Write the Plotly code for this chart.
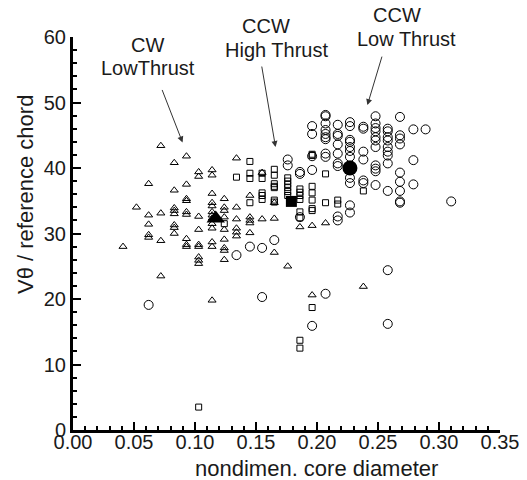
import plotly.graph_objects as go

# CW Low Thrust (triangles): x column -> list of y values
tri_cols = [0.041, 0.052, 0.062, 0.072, 0.083, 0.093, 0.103, 0.114, 0.124,
            0.134, 0.145, 0.155, 0.165, 0.176, 0.186, 0.196, 0.207, 0.238]
tri_vals = [
    [28.0],
    [34.0],
    [37.6, 32.8, 31.4, 29.8, 29.4],
    [43.4, 33.1, 28.9, 23.5],
    [40.8, 36.6, 33.9, 33.5, 33.0, 31.3, 30.9, 30.0],
    [41.8, 37.5, 35.3, 35.0, 33.3, 32.9, 29.2, 28.3, 28.0],
    [39.4, 38.7, 32.6, 30.6, 28.3, 28.0, 26.4, 25.9, 25.4],
    [39.7, 38.9, 36.1, 34.7, 34.2, 33.3, 32.8, 32.3, 31.5, 30.8, 28.7, 28.0, 19.8],
    [35.3, 34.0, 33.5, 32.5, 30.6, 29.1, 27.8, 27.4, 26.0],
    [41.5, 34.0, 32.2, 30.8, 30.2, 29.6],
    [35.8, 32.5, 32.0, 31.6, 30.1],
    [39.3, 32.2],
    [34.7, 32.3, 27.1],
    [25.0],
    [31.0],
    [31.2, 20.6],
    [31.6],
    [21.9],
]

# CCW High Thrust (squares)
sq_cols = [0.103, 0.124, 0.134, 0.145, 0.155, 0.165, 0.176, 0.186, 0.196,
           0.207, 0.217, 0.238]
sq_vals = [
    [3.5],
    [31.5],
    [38.6],
    [41.0, 39.2, 38.4, 34.7],
    [39.2, 38.4, 36.2, 35.8, 35.2],
    [39.8, 38.9, 37.6, 37.2, 37.0, 35.1, 34.8],
    [38.5, 38.0, 37.5, 37.0, 36.4, 35.8],
    [36.8, 36.3, 35.8, 35.2, 33.3, 32.4, 13.7, 12.5],
    [42.1, 41.9, 37.2, 36.2, 35.1, 33.8, 33.5, 18.7],
    [39.1, 34.7],
    [35.1, 34.5],
    [36.5],
]

# CCW Low Thrust (circles)
circ_cols = [0.062, 0.134, 0.145, 0.155, 0.165, 0.176, 0.186, 0.196, 0.207,
             0.217, 0.227, 0.238, 0.248, 0.258, 0.268, 0.279, 0.289, 0.310]
circ_vals = [
    [19.1],
    [26.7],
    [28.0],
    [27.8, 20.3],
    [29.0],
    [41.3, 40.4],
    [39.4, 39.1, 32.5],
    [46.4, 45.2, 41.8, 39.7, 15.9],
    [48.1, 47.9, 46.8, 45.8, 45.2, 44.7, 44.4, 42.2, 41.7, 20.8],
    [46.6, 45.2, 44.9, 43.6, 42.2, 40.7, 40.3, 32.6, 32.0],
    [47.0, 46.4, 44.3, 44.0, 43.2, 42.6, 41.7, 38.5, 37.7, 34.3, 33.2],
    [46.3, 46.0, 42.5, 41.3, 38.1, 37.7],
    [47.9, 46.8, 46.1, 45.6, 44.7, 44.2, 43.2, 40.4, 39.9, 39.5, 37.4],
    [46.0, 45.6, 44.7, 44.2, 43.2, 42.5, 41.9, 40.7, 36.5, 24.4, 16.2],
    [47.8, 45.0, 44.5, 43.6, 39.3, 37.9, 36.5, 34.9, 34.7],
    [45.9, 41.2, 37.5],
    [45.9],
    [34.9],
]

# group means (filled symbols)
mean_x = [0.117, 0.179, 0.227]
mean_y = [32.3, 34.9, 40.0]
mean_symbols = ['triangle-up', 'square', 'circle']
mean_sizes = [16, 11, 15]

FONT = "Arial, Liberation Sans, sans-serif"
TXT = "#1a1a1a"


def expand(cols, vals):
    xs, ys = [], []
    for c, v in zip(cols, vals):
        for y in v:
            xs.append(c)
            ys.append(y)
    return xs, ys


fig = go.Figure()

for cols, vals, sym, size in [(tri_cols, tri_vals, 'triangle-up-open', 7),
                              (sq_cols, sq_vals, 'square-open', 6),
                              (circ_cols, circ_vals, 'circle-open', 9)]:
    xs, ys = expand(cols, vals)
    fig.add_trace(go.Scatter(
        x=xs, y=ys, mode='markers',
        marker=dict(symbol=sym, size=size, color='black', line=dict(width=1, color='black')),
        showlegend=False, cliponaxis=False
    ))

for mx, my, sym, size in zip(mean_x, mean_y, mean_symbols, mean_sizes):
    fig.add_trace(go.Scatter(
        x=[mx], y=[my], mode='markers',
        marker=dict(symbol=sym, size=size, color='black'),
        showlegend=False
    ))

# labels
labels = [
    ("CW", 0.1748, 0.980),
    ("LowThrust", 0.1748, 0.922),
    ("CCW", 0.4527, 1.028),
    ("High Thrust", 0.4762, 0.966),
    ("CCW", 0.7599, 1.056),
    ("Low Thrust", 0.7810, 0.994),
]
for txt, px_, py_ in labels:
    fig.add_annotation(text=txt, x=px_, y=py_, xref='paper', yref='paper',
                       xanchor='center', yanchor='middle', showarrow=False,
                       font=dict(family=FONT, size=20, color=TXT))

# arrows: head in data coords, tail offset in pixels
arrows = [(0.0898, 43.9, -21, -54), (0.166, 43.2, -14, -82), (0.2413, 49.6, 15, -50)]
for hx, hy, ax, ay in arrows:
    fig.add_annotation(x=hx, y=hy, xref='x', yref='y', text='', showarrow=True,
                       ax=ax, ay=ay, arrowhead=2, arrowsize=1.2, arrowwidth=1,
                       arrowcolor='#333333', standoff=0)

fig.add_annotation(text="nondimen. core diameter", x=0.570, y=-0.097,
                   xref='paper', yref='paper', xanchor='center', yanchor='middle',
                   showarrow=False, font=dict(family=FONT, size=22, color=TXT))
fig.add_annotation(text="Vθ / reference chord", x=-0.113, y=0.600,
                   xref='paper', yref='paper', xanchor='center', yanchor='middle',
                   textangle=-90, showarrow=False,
                   font=dict(family=FONT, size=22, color=TXT))

# page body has an 8px margin, so shift the plot area up/left by 8px
fig.update_layout(
    width=527, height=480,
    margin=dict(l=65, r=35, t=29, b=58),
    plot_bgcolor='white', paper_bgcolor='white',
    font=dict(family=FONT, size=20, color=TXT),
)
fig.update_xaxes(
    range=[0, 0.35], dtick=0.05, tick0=0, tickformat='.2f',
    showline=True, linewidth=3, linecolor='black', mirror=False,
    ticks='inside', ticklen=8, tickwidth=2, tickcolor='black',
    minor=dict(dtick=0.01, ticks='inside', ticklen=4, tickwidth=1.5, tickcolor='black'),
    showgrid=False, zeroline=False, ticklabelstandoff=-8,
    tickfont=dict(family=FONT, size=20, color=TXT)
)
fig.update_yaxes(
    range=[0, 60], dtick=10, tick0=0,
    showline=True, linewidth=3, linecolor='black', mirror=False,
    ticks='inside', ticklen=8, tickwidth=2, tickcolor='black',
    minor=dict(dtick=2, ticks='inside', ticklen=4, tickwidth=1.5, tickcolor='black'),
    showgrid=False, zeroline=False,
    tickfont=dict(family=FONT, size=20, color=TXT)
)

fig.write_html("out.html")
